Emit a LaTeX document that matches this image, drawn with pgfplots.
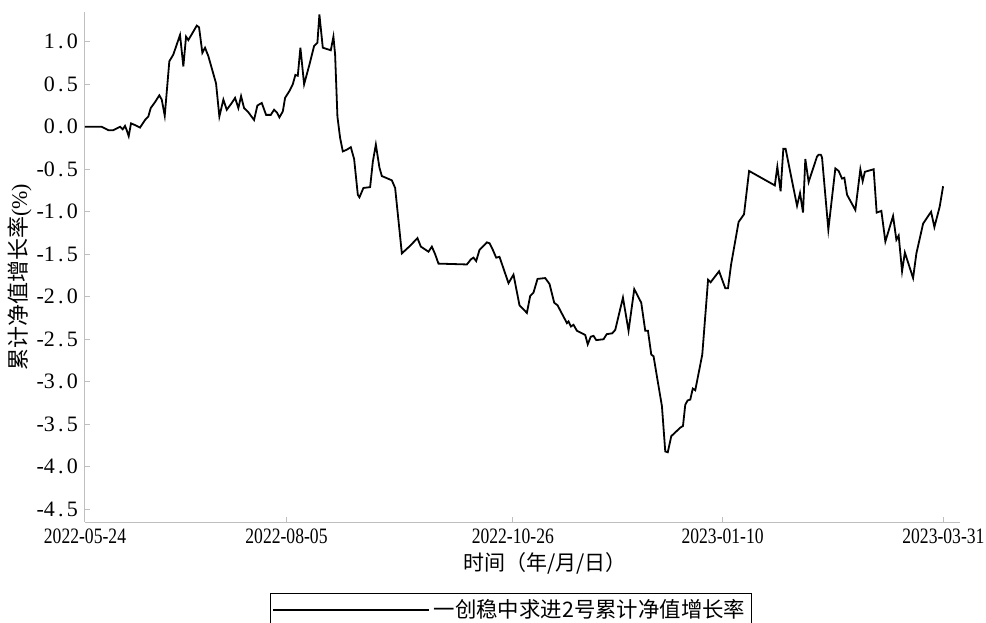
\documentclass[border=0pt]{standalone}
\usepackage{fontspec}
\setmainfont{Liberation Serif}
\newfontfamily\cjk{Noto Sans CJK SC}
\newfontfamily\numfont[FakeStretch=0.8]{Liberation Serif}
\usepackage{pgfplots}
\pgfplotsset{compat=1.18}
\newcommand\dd{\makebox[0.55em][c]{.}}
\begin{document}
\begin{tikzpicture}
\begin{axis}[
  scale only axis, width=437.5pt, height=255pt,
  xmin=0, xmax=317, ymin=-4.65, ymax=1.35,
  axis x line*=bottom, axis y line*=left,
  axis line style={-, draw=gray!50, line width=0.5pt},
  xtick={0,73,155,231,311},
  xticklabels={2022-05-24,2022-08-05,2022-10-26,2023-01-10,2023-03-31},
  ytick={-4.5,-4.0,-3.5,-3.0,-2.5,-2.0,-1.5,-1.0,-0.5,0,0.5,1.0},
  yticklabels={-4\dd5,-4\dd0,-3\dd5,-3\dd0,-2\dd5,-2\dd0,-1\dd5,-1\dd0,-0\dd5,0\dd0,0\dd5,1\dd0},
  tick style={draw=gray!50, line width=0.5pt},
  major tick length=2.5pt,
  tick align=inside,
  xticklabel style={font=\numfont\fontsize{11}{13}\selectfont},
  yticklabel style={font=\fontsize{11}{13}\selectfont},
  xlabel={\cjk 时间（年/月/日）},
  xlabel style={at={(axis description cs:0.526,-0.0804)}, anchor=center, font=\fontsize{10.5}{12}\selectfont},
  ylabel={{\cjk 累计净值增长率}(\%)},
  ylabel style={at={(axis description cs:-0.0743,0.48)}, anchor=center, font=\fontsize{11}{13}\selectfont},
  legend style={at={(axis description cs:0.2114,-0.139)}, anchor=north west, draw=black, line width=0.6pt,
    inner xsep=1pt, inner ysep=1pt, font=\cjk\fontsize{10.7}{12.5}\selectfont},
  legend image code/.code={\draw[#1, line width=0.6pt] (0pt,0pt) -- (78pt,0pt);},
]
\addplot[black, line width=0.9pt] coordinates {
(0,0.00) (6.05,0.00) (8.45,-0.04) (10.26,-0.04) (12.69,0.00) (13.66,-0.03) (14.50,0.01) (15.11,-0.04) (15.84,-0.11) (16.67,0.04)
(18.12,0.02) (19.93,-0.01) (21.75,0.08) (22.94,0.12) (23.81,0.22) (25.37,0.29) (26.93,0.37) (27.80,0.32) (28.89,0.13) (30.55,0.77)
(32.00,0.85) (34.43,1.08) (35.63,0.71) (36.61,1.06) (37.44,1.02) (39.25,1.12) (40.49,1.19) (41.32,1.17) (42.52,0.87) (43.49,0.93)
(44.69,0.83) (47.48,0.51) (48.68,0.12) (50.13,0.32) (51.36,0.20) (53.17,0.28) (54.37,0.34) (55.56,0.22) (56.54,0.36) (57.63,0.22)
(59.19,0.17) (61.25,0.08) (62.45,0.25) (64.04,0.28) (65.60,0.14) (67.31,0.14) (68.50,0.20) (69.48,0.17) (70.42,0.11) (71.66,0.18)
(72.49,0.34) (74.05,0.42) (75.28,0.50) (76.22,0.61) (77.09,0.60) (78.04,0.93) (79.38,0.50) (81.30,0.73) (83.00,0.95) (84.20,0.99)
(84.92,1.32) (86.15,0.93) (89.05,0.90) (90.00,1.06) (90.61,0.85) (91.45,0.12) (92.42,-0.13) (93.40,-0.29) (94.85,-0.27) (96.30,-0.24)
(97.50,-0.38) (98.84,-0.80) (99.42,-0.83) (100.87,-0.72) (103.30,-0.71) (104.28,-0.41) (105.37,-0.21) (106.67,-0.48) (107.54,-0.58) (111.16,-0.63)
(112.36,-0.72) (114.79,-1.49) (117.80,-1.40) (120.44,-1.31) (121.67,-1.41) (124.43,-1.47) (125.66,-1.41) (126.86,-1.50) (128.05,-1.61) (138.35,-1.62)
(139.80,-1.56) (140.74,-1.54) (141.72,-1.58) (142.91,-1.45) (145.60,-1.36) (146.54,-1.37) (147.77,-1.45) (148.97,-1.54) (150.16,-1.53) (153.43,-1.84)
(155.24,-1.74) (157.41,-2.10) (160.09,-2.19) (161.29,-1.99) (162.49,-1.95) (163.94,-1.79) (166.73,-1.78) (168.29,-1.85) (169.99,-2.07) (171.19,-2.10)
(174.59,-2.31) (175.17,-2.29) (176.04,-2.35) (176.98,-2.33) (178.22,-2.40) (181.23,-2.45) (182.13,-2.56) (183.22,-2.47) (184.23,-2.46) (185.21,-2.51)
(187.86,-2.50) (189.02,-2.44) (191.01,-2.43) (192.10,-2.39) (194.89,-2.01) (196.92,-2.40) (198.99,-1.91) (201.52,-2.07) (202.97,-2.40) (203.95,-2.40)
(205.15,-2.68) (205.98,-2.70) (209.02,-3.29) (210.22,-3.82) (211.13,-3.83) (212.40,-3.64) (215.66,-3.54) (216.64,-3.52) (217.47,-3.27) (218.31,-3.22)
(219.28,-3.21) (220.19,-3.08) (221.09,-3.10) (223.63,-2.68) (225.73,-1.80) (226.64,-1.83) (229.72,-1.70) (231.97,-1.90) (232.95,-1.90) (234.07,-1.62)
(236.79,-1.12) (238.75,-1.03) (240.59,-0.52) (249.91,-0.69) (250.82,-0.47) (252.01,-0.76) (252.99,-0.26) (253.82,-0.26) (257.96,-0.93) (259.04,-0.78)
(260.13,-1.01) (260.96,-0.38) (262.16,-0.65) (265.20,-0.35) (265.78,-0.33) (266.58,-0.33) (267.01,-0.36) (269.30,-1.21) (271.84,-0.49) (273.03,-0.52)
(274.26,-0.61) (275.10,-0.60) (276.08,-0.80) (279.09,-0.98) (280.90,-0.50) (281.74,-0.64) (282.53,-0.53) (285.72,-0.50) (286.81,-1.01) (288.51,-0.99)
(289.96,-1.35) (292.75,-1.05) (293.95,-1.33) (294.78,-1.28) (296.01,-1.70) (297.03,-1.48) (300.00,-1.78) (301.20,-1.49) (303.63,-1.14) (306.52,-1.00)
(307.72,-1.18) (309.64,-0.94) (310.87,-0.70)
};
\addlegendentry{一创稳中求进2号累计净值增长率}
\end{axis}
\pgfresetboundingbox
\path[use as bounding box] (-42.5pt,-50pt) rectangle (450.5pt,261pt);
\end{tikzpicture}
\end{document}
